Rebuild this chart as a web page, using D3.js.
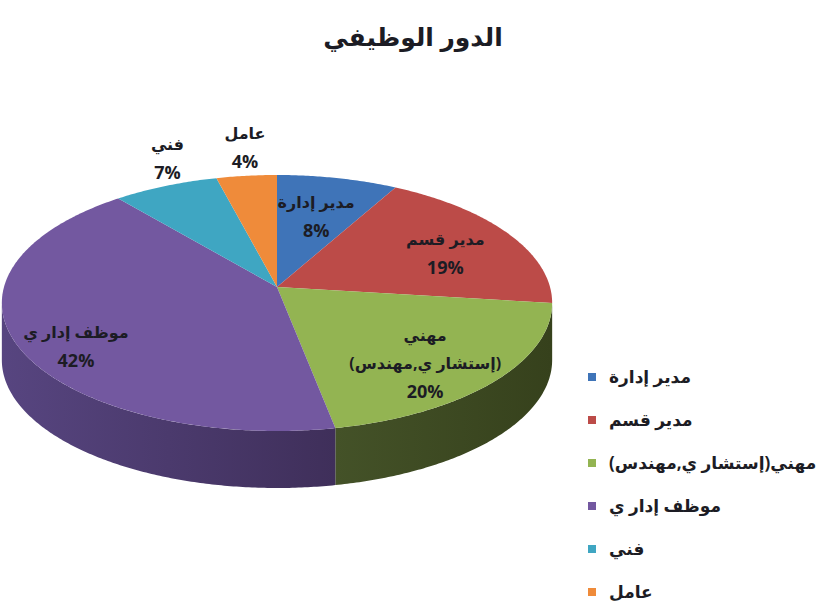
<!DOCTYPE html>
<html>
<head>
<meta charset="utf-8">
<script src="https://cdn.jsdelivr.net/npm/d3@7"></script>
<style>
  body { margin: 0; background: #fff; }
  text { font-family: "Open Sans", "DejaVu Sans", sans-serif; font-weight: bold; fill: #1c1c24; }
</style>
</head>
<body>
<svg id="chart" width="830" height="612"></svg>
<script>
var title = "الدور الوظيفي";
var categories = ["مدير إدارة", "مدير قسم", "مهني(إستشار ي,مهندس)", "موظف إدار ي", "فني", "عامل"];
var labelLines = [["مدير إدارة"], ["مدير قسم"], ["مهني", "(إستشار ي,مهندس)"], ["موظف إدار ي"], ["فني"], ["عامل"]];
var values = [8, 19, 20, 42, 7, 4];
var cols = ["#3f74b8", "#bc4b48", "#93b452", "#7358a0", "#3fa6c2", "#ef8b3a"];
var sideCols = [["#2c5288", "#24446f"], ["#8a3533", "#702a28"], ["#445228", "#36411c"], ["#574580", "#3f2f5a"], ["#2c7a8e", "#23606f"], ["#b0632a", "#8f5022"]];

// pie geometry (perspective ellipse)
var cx = 277, cy = 287, Rx = 273, Ry = 126, persp = 0.125, depth = 57;
// label placement: radial factor + vertical nudge per slice
var labelR = [0.62, 0.72, 0.70, 0.78, 0.98, 1.06];
var labelDy = [0, 6, 12, 16, -29, -22];

var svg = d3.select("#chart");

function proj(theta, f) {
  var X = f * Math.sin(theta), Z = f * Math.cos(theta);
  var w = 1 + persp * Z;
  return [cx + Rx * X / w, cy - Ry * Z / w];
}

function arcPts(a0, a1, dy) {
  var n = Math.max(2, Math.ceil((a1 - a0) / 0.01));
  var pts = [];
  for (var i = 0; i <= n; i++) {
    var p = proj(a0 + (a1 - a0) * i / n, 1);
    pts.push([p[0], p[1] + dy]);
  }
  return pts;
}

var pie = d3.pie().sort(null).value(function(d){ return d; });
var arcs = pie(values);
var line = d3.line();

var defs = svg.append("defs");
var tR = Math.acos(-persp), tL = 2 * Math.PI - tR;

// sides first
arcs.forEach(function(a, i){
  var s = Math.max(a.startAngle, tR), e = Math.min(a.endAngle, tL);
  if (e <= s) return;
  var top = arcPts(s, e, 0);
  var bot = arcPts(s, e, depth).reverse();
  var xs = top.map(function(p){ return p[0]; });
  var g = defs.append("linearGradient")
    .attr("id", "side" + i)
    .attr("gradientUnits", "userSpaceOnUse")
    .attr("x1", d3.min(xs)).attr("x2", d3.max(xs))
    .attr("y1", 0).attr("y2", 0);
  g.append("stop").attr("offset", 0).attr("stop-color", sideCols[i][0]);
  g.append("stop").attr("offset", 1).attr("stop-color", sideCols[i][1]);
  svg.append("path")
    .attr("d", line(top.concat(bot)) + "Z")
    .attr("fill", "url(#side" + i + ")");
});

// top faces
arcs.forEach(function(a, i){
  var pts = [proj(0, 0)].concat(arcPts(a.startAngle, a.endAngle, 0));
  svg.append("path")
    .attr("d", line(pts) + "Z")
    .attr("fill", cols[i]);
});

// slice labels
arcs.forEach(function(a, i){
  var mid = (a.startAngle + a.endAngle) / 2;
  var p = proj(mid, labelR[i]);
  var lines = labelLines[i].concat([values[i] + "%"]);
  var lh = 28;
  var y0 = p[1] + labelDy[i] - (lines.length - 1) * lh / 2;
  lines.forEach(function(l, k){
    svg.append("text")
      .attr("x", p[0])
      .attr("y", y0 + k * lh)
      .attr("dy", "0.35em")
      .attr("text-anchor", "middle")
      .attr("direction", k < lines.length - 1 ? "rtl" : "ltr")
      .attr("font-size", k < lines.length - 1 ? 16 : 18)
      .text(l);
  });
});

// title
svg.append("text")
  .attr("x", 413).attr("y", 37)
  .attr("dy", "0.35em")
  .attr("text-anchor", "middle")
  .attr("font-size", 25)
  .attr("fill", "#000")
  .text(title);

// legend
var leg = svg.append("g").attr("transform", "translate(588,377)");
var item = leg.selectAll("g").data(categories).enter().append("g")
  .attr("transform", function(d, i){ return "translate(0," + (i * 43) + ")"; });
item.append("rect")
  .attr("x", 0).attr("y", -4).attr("width", 8).attr("height", 8)
  .attr("fill", function(d, i){ return cols[i]; });
item.append("text")
  .attr("x", 21).attr("dy", "0.35em")
  .attr("direction", "rtl")
  .attr("text-anchor", "end")
  .attr("font-size", 17)
  .text(function(d){ return d; });
</script>
</body>
</html>
